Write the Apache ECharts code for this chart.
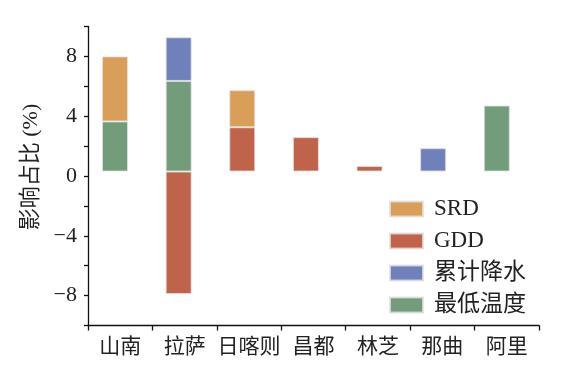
<!DOCTYPE html>
<html><head><meta charset="utf-8">
<script src="https://cdn.jsdelivr.net/npm/echarts@6/dist/echarts.min.js"></script>
<style>html,body{margin:0;padding:0;background:#fff}#c{width:587px;height:375px}</style>
</head><body><div id="c"></div>
<script>
// Data
const categories = ['山南', '拉萨', '日喀则', '昌都', '林芝', '那曲', '阿里'];
const baseline = 0.3; // bars in the original start slightly above zero
const minTemp = [3.35, 6.06, '-', '-', '-', '-', 4.41];     // 最低温度
const gddPos = ['-', '-', 2.96, 2.3, 0.37, '-', '-'];        // GDD (positive)
const gddNeg = ['-', -8.2, '-', '-', '-', '-', '-'];         // GDD (negative)
const srd = [4.35, '-', 2.48, '-', '-', '-', '-'];           // SRD
const precip = ['-', 2.92, '-', '-', '-', 1.56, '-'];        // 累计降水
const yTicksLabeled = [-8, -4, 0, 4, 8];
const legendNames = ['SRD', 'GDD', '累计降水', '最低温度'];

const colors = { SRD: '#D99E58', GDD: '#BF644A', '累计降水': '#6F80BB', '最低温度': '#729C7A' };
const serif = '"Liberation Serif", "Noto Sans CJK SC", serif';
const baseArr = categories.map(() => baseline);
const baseNeg = gddNeg.map(v => v === '-' ? '-' : baseline);

const chart = echarts.init(document.getElementById('c'));
const grid = { left: 88, right: 48, top: 26.5, bottom: 49.5 };
const barGrid = { left: 83.2, right: 58.4, top: 26.5, bottom: 49.5 };
const yRange = { min: -10, max: 10, interval: 2 };
const itemStyle = c => ({ color: c, borderColor: 'rgba(225,225,225,0.8)', borderWidth: 1 });
function bar(name, data, stack, xi, color, strat) {
  return { type: 'bar', name, data, stack, xAxisIndex: xi, yAxisIndex: 1, barWidth: 26,
    stackStrategy: strat || 'samesign',
    itemStyle: color ? itemStyle(color) : { color: 'rgba(0,0,0,0)' },
    silent: !color, emphasis: { disabled: true } };
}
chart.setOption({
  animation: false,
  grid: [grid, barGrid],
  legend: {
    data: legendNames, orient: 'vertical', left: 389, top: 197.5, padding: 0,
    itemWidth: 33, itemHeight: 15, itemGap: 9, icon: 'rect',
    textStyle: { fontFamily: serif, fontSize: 23, color: '#222', padding: [0, 0, 0, 6] }
  },
  xAxis: [
    { type: 'category', gridIndex: 0, data: categories,
      axisLine: { onZero: false, lineStyle: { color: '#111', width: 1.3 } },
      axisTick: { show: true, length: 5, lineStyle: { color: '#111', width: 1.3 } },
      axisLabel: { fontFamily: serif, fontSize: 21, color: '#222', margin: 11, interval: 0 } },
    { type: 'category', gridIndex: 1, data: categories, show: false },
    { type: 'category', gridIndex: 1, data: categories, show: false }
  ],
  yAxis: [
    { type: 'value', gridIndex: 0, ...yRange,
      name: '影响占比 (%)', nameLocation: 'middle', nameGap: 45,
      nameTextStyle: { fontFamily: serif, fontSize: 22, color: '#222', padding: [0, 0, 0, 18] },
      splitLine: { show: false },
      axisLine: { show: true, onZero: false, lineStyle: { color: '#111', width: 1.3 } },
      axisTick: { show: true, length: 4, lineStyle: { color: '#111', width: 1.3 } },
      axisLabel: { fontFamily: serif, fontSize: 22, color: '#222', margin: 11,
        formatter: v => yTicksLabeled.includes(v) ? String(v).replace('-', '\u2212') : '' } },
    { type: 'value', gridIndex: 1, ...yRange, show: false, splitLine: { show: false } }
  ],
  series: [
    bar('_base', baseArr, 'pos', 1, null),
    bar('最低温度', minTemp, 'pos', 1, colors['最低温度']),
    bar('GDD', gddPos, 'pos', 1, colors.GDD),
    bar('SRD', srd, 'pos', 1, colors.SRD),
    bar('累计降水', precip, 'pos', 1, colors['累计降水']),
    bar('_base2', baseNeg, 'neg', 2, null, 'all'),
    bar('GDD', gddNeg, 'neg', 2, colors.GDD, 'all')
  ]
});
</script></body></html>
